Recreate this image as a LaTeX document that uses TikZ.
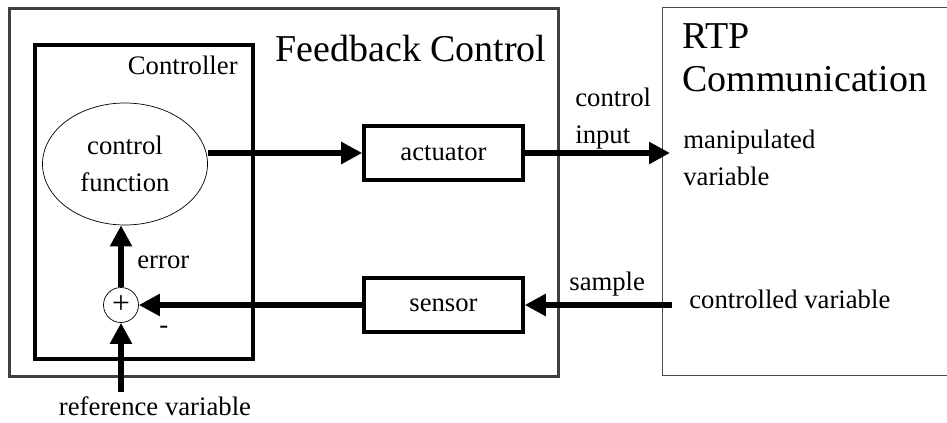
\documentclass[tikz,border=0pt]{standalone}
\usepackage{fontspec}
\setmainfont{Liberation Serif}
\usepackage{tikz}
\usetikzlibrary{arrows,arrows.meta,shapes,positioning,calc}
\newcommand{\txtfont}{\fontsize{15.2}{21}\selectfont}
\newcommand{\titlefont}{\fontsize{21.6}{26}\selectfont}
\tikzstyle{outerbox} =
  [rectangle, draw=black!75, line width=1.7pt, anchor=north west,
   minimum width=10.98cm, minimum height=7.36cm]
\tikzstyle{ctrlbox} =
  [rectangle, draw, line width=2.3pt, anchor=north west,
   minimum width=4.36cm, minimum height=6.28cm]
\tikzstyle{block} =
  [rectangle, draw, line width=2pt, text centered, font=\txtfont,
   minimum width=3.18cm, minimum height=1.08cm]
\tikzstyle{cloud} =
  [draw, ellipse, thin, align=center, font=\txtfont, inner sep=0pt,
   minimum width=3.3cm, minimum height=2.44cm]
\tikzstyle{txt}=[inner sep=0pt, anchor=base west, font=\txtfont]
\tikzstyle{title}=[inner sep=0pt, anchor=base west, font=\titlefont]
\tikzstyle{arrow}=[draw, line width=3.4pt, -{Triangle[length=0.42cm,width=0.42cm]}]

\begin{document}
\begin{tikzpicture}
  \useasboundingbox (0,0) rectangle (18.94,-8.46);

  % frames
  \node [outerbox] (fb) at (0.16,-0.14) {};
  \node [ctrlbox] (ctrl) at (0.66,-0.86) {};
  \node [outerbox, draw=black!70, line width=0.7pt, minimum width=5.8cm] (rtp) at (13.24,-0.14) {};

  \node [title, anchor=base] (fbt) at (8.22,-1.24) {Feedback Control};
  \node [title] (rtpt) at (13.64,-0.97) {RTP};
  \node [title, below=0.86cm of rtpt.base west, anchor=base west] (comt) {Communication};
  \node [txt, anchor=base east] (ctrlt) at (4.76,-1.5) {Controller};

  % blocks
  \node [cloud] (cf) at (2.5,-3.28) {control\\function};
  \node [circle, draw, thin, minimum size=0.7cm, inner sep=0pt,
         font=\fontsize{18}{18}\selectfont] (sum) at (2.42,-6.1) {+};
  \node [block] (act) at (8.87,-3.06) {actuator};
  \node [block, below of=act, node distance=3.04cm] (sen) {sensor};
  \coordinate (refin) at (2.42,-7.84);

  \draw [arrow] (cf.east |- act.west) to (act.west);
  \draw [arrow] (act.east) to ($(rtp.west |- act.east)+(0.16,0)$);
  \draw [arrow] ($(rtp.west |- sen.east)+(0.2,0)$) to (sen.east);
  \draw [arrow] (sen.west) to (sum.east);
  \draw [arrow] (sum.north) to (sum |- cf.south);
  \draw [arrow] (refin) to (sum.south);

  % signal labels
  \node [txt] (err) at (2.74,-5.36) {error};
  \node [txt] (minus) at (3.18,-6.66) {-};
  \node [txt, anchor=base] (reft) at (3.1,-8.3) {reference variable};
  \node [txt] (ci1) at (11.5,-2.14) {control};
  \node [txt, below=0.72cm of ci1.base west, anchor=base west] (ci2) {input};
  \node [txt] (smp) at (11.38,-5.8) {sample};
  \node [txt] (mv1) at (13.66,-2.96) {manipulated};
  \node [txt, below=0.74cm of mv1.base west, anchor=base west] (mv2) {variable};
  \node [txt] (cv) at (13.78,-6.16) {controlled variable};

\end{tikzpicture}
\end{document}
